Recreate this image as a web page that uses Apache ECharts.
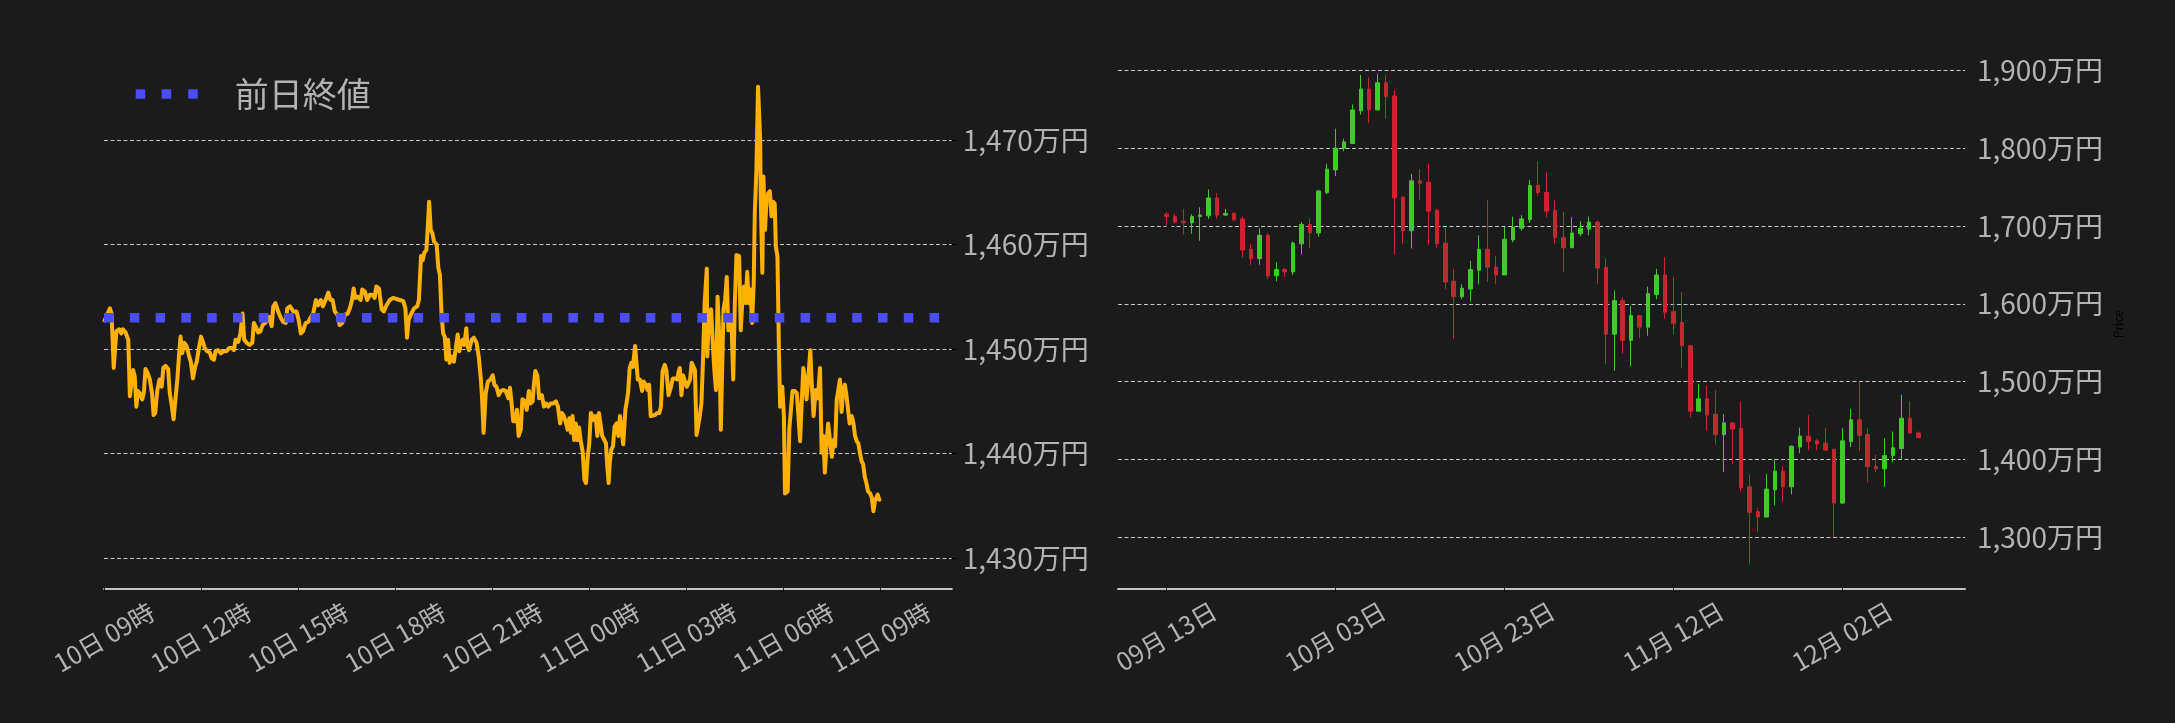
<!DOCTYPE html>
<html><head><meta charset="utf-8">
<script src="https://cdn.jsdelivr.net/npm/echarts@6/dist/echarts.min.js"></script>
<style>html,body{margin:0;padding:0;background:#1b1b1b;}#c{width:2175px;height:723px;}</style>
</head><body><div id="c"></div>
<script>
const FONT = '"Noto Sans CJK JP", "Noto Sans", sans-serif';

// ---------- intraday (minutes since 10日 00:00) ----------
const lineMinutes = [540,551,554,558,560,563,568,572,575,580,585,588,591,594,597,600,603,606,611,614,617,621,625,629,632,635,639,643,647,650,654,659,662,666,669,673,676,679,682,685,689,693,697,701,705,709,712,716,720,724,727,731,736,740,744,747,752,757,761,767,772,777,781,784,789,793,797,800,805,810,815,818,821,826,830,834,839,843,846,851,854,858,863,867,872,877,880,885,
891,897,901,905,909,914,919,924,928,933,937,942,946,951,956,960,964,968,973,977,982,987,992,996,1000,1003,1006,1011,1016,1019,1024,1028,1033,1038,1042,1045,1050,1055,1059,1064,1070,1076,1082,1089,1095,1099,1102,1105,1110,1115,1121,1124,1128,1131,1134,1138,1141,1143,1146,1149,1152,1157,1160,1163,1166,1169,1172,1175,1178,1181,1186,1189,1193,1196,1199,1202,1205,1208,1212,1214,1217,1222,1226,1231,1235,1239,1241,1244,
1248,1252,1257,1261,1264,1268,1272,1276,1280,1285,1290,1293,1296,1299,1303,1306,1309,1313,1316,1321,1324,1328,1331,1335,1337,1340,1344,1347,1352,1356,1360,1364,1368,1373,1378,1382,1386,1389,1393,1397,1400,1403,1406,1409,1412,1415,1418,1421,1424,1428,1431,1434,1437,1440,1443,1446,1449,1452,1455,1458,1461,1464,1467,1471,1473,1476,1478,1481,1484,1487,1491,1494,1497,1500,1503,1507,1509,1512,1515,1518,1521,1525,1528,1530,1534,1538,1541,1545,1548,1551,1554,1557,1562,1566,1570,1573,1576,1580,1583,1587,1591,1595,1599,1603,1606,
1608,1611,1614,1617,1621,1624,1627,1630,1633,1636,1639,1642,1645,1648,1651,1654,1658,1659,1662,1666,1669,1672,1675,1678,1681,1684,1687,1689,1692,1695,1698,1701,1704,1707,1710,1713,1718,1721,1724,1727,1730,1733,1736,1739,1742,1745,1747,1750,1753,1757,1758,1761,1763,1766,1769,1772,1775,1778,1781,1784,1786,1789,1792,1794,1798,1801,1803,1808,1811,1814,1817,1821,1825,1828,1831,1834,1837,1840,1843,1846,1850,1852,1856,1860,1864,1868,1871,1874,1877,1880,1883,1886,1890,1893,1896,1899,1902,1905,1908,1911,1914,1917,1920,1923,1927,1930,1933,1936,1939,1942,1945,1948,1951,1954,1957,1961,1964,1967,1970,1975,1978,1980];
const lineValues = [1452.6,1453.9,1453.4,1448.2,1448.3,1451.7,1451.9,1451.5,1451.9,1451.6,1450.9,1445.5,1445.6,1448.0,1447.4,1444.5,1446.0,1445.8,1445.2,1445.9,1448.1,1447.7,1447.1,1445.8,1443.7,1443.9,1446.1,1447.1,1446.4,1448.2,1448.4,1448.1,1445.8,1444.5,1443.3,1445.5,1447.1,1449.3,1451.2,1449.6,1450.6,1450.3,1449.5,1448.8,1447.2,1448.3,1448.8,1450.1,1451.2,1450.6,1450.1,1449.8,1449.7,1449.1,1449.0,1449.8,1449.9,1449.6,1449.8,1449.8,1450.1,1450.1,1449.9,1450.9,1450.7,1451.5,1453.4,1450.9,1450.6,1450.4,1450.6,1452.5,1452.2,1451.6,1451.7,1452.3,1452.5,1452.8,1453.1,1452.2,1454.1,1454.4,1453.6,1453.1,1452.6,1452.5,1453.9,1454.1,
1453.6,1453.6,1452.8,1451.5,1451.7,1452.5,1452.6,1453.1,1453.4,1454.7,1454.2,1454.7,1454.1,1454.7,1455.4,1454.7,1454.7,1453.6,1453.3,1452.3,1452.5,1453.3,1453.4,1453.9,1454.7,1455.8,1454.9,1455.0,1454.7,1455.7,1455.5,1454.7,1455.2,1455.2,1454.9,1456.0,1455.8,1453.8,1453.6,1454.2,1454.7,1454.9,1454.8,1454.7,1454.6,1453.9,1451.1,1452.8,1453.4,1453.9,1454.1,1454.7,1458.9,1458.5,1459.2,1459.5,1462.1,1464.1,1461.4,1461.1,1460.3,1460.0,1457.8,1457.1,1453.4,1451.5,1451.2,1449.0,1450.9,1448.7,1449.3,1448.8,1450.3,1451.4,1449.8,1450.6,1450.9,1450.4,1452.0,1450.3,1449.9,1450.9,1451.1,1450.6,1449.3,1447.1,1445.5,1442.0,
1445.8,1446.9,1447.1,1447.5,1446.6,1446.4,1445.6,1446.0,1446.1,1446.0,1445.3,1446.3,1444.8,1443.1,1443.1,1444.2,1441.7,1442.3,1445.2,1445.0,1444.2,1446.0,1444.8,1445.0,1446.4,1447.9,1447.4,1445.3,1445.6,1444.5,1444.8,1444.5,1444.8,1444.8,1445.0,1444.5,1442.9,1443.9,1443.6,1442.9,1442.3,1443.4,1442.0,1443.6,1441.3,1442.9,1441.3,1442.5,1441.3,1440.1,1437.5,1437.2,1439.6,1441.0,1443.9,1443.9,1443.2,1443.6,1441.7,1443.9,1444.0,1441.7,1441.8,1441.0,1439.1,1437.2,1439.1,1440.4,1440.7,1442.6,1442.9,1441.7,1443.6,1443.7,1440.9,1444.2,1444.8,1445.8,1448.2,1448.7,1448.3,1450.3,1450.3,1447.1,1447.1,1446.0,1446.9,1446.6,1446.1,1446.6,1443.6,1443.6,1443.7,1443.9,1443.9,1444.5,1447.9,1448.5,1448.0,1445.6,1446.3,1447.2,1447.2,1447.1,1447.9,
1448.2,1445.6,1447.5,1447.4,1446.4,1446.3,1447.1,1448.7,1448.7,1448.0,1441.8,1441.8,1443.6,1444.8,1449.0,1454.4,1457.7,1449.3,1453.4,1453.8,1450.6,1448.0,1446.1,1455.0,1451.2,1442.3,1449.3,1453.8,1454.7,1456.9,1451.8,1452.5,1452.2,1447.1,1454.4,1459.0,1458.9,1451.8,1454.7,1456.0,1454.4,1457.4,1454.4,1455.7,1452.5,1456.3,1463.0,1467.1,1475.1,1470.0,1464.6,1457.3,1466.5,1461.4,1464.4,1464.9,1465.1,1462.7,1464.1,1463.9,1459.8,1458.9,1449.3,1444.5,1446.4,1443.6,1436.2,1436.4,1442.3,1444.2,1446.0,1446.0,1445.8,1443.6,1441.2,1444.8,1448.2,1447.1,1445.2,1447.1,1449.9,1447.4,1443.6,1446.1,1445.3,1448.2,1440.1,1441.7,1438.2,1440.7,1442.9,1442.9,1439.7,1441.3,1440.7,1445.2,1446.1,1447.1,1444.0,1446.1,1446.6,1445.6,1444.2,1442.9,1443.6,1442.9,1441.7,1441.2,1441.0,1440.1,1439.3,1439.0,1437.8,1437.2,1436.4,1436.2,1435.8,1434.5,1435.5,1436.1,1435.6,1435.7];
const prevClose = 1453.0;
const leftTickMinutes = [540,720,900,1080,1260,1440,1620,1800,1980];
const leftTickLabels = ['10日 09時','10日 12時','10日 15時','10日 18時','10日 21時','11日 00時','11日 03時','11日 06時','11日 09時'];
const leftYTicks = [1430,1440,1450,1460,1470];
const legendName = '前日終値';

// ---------- daily candles (2025) ----------
const candleDates = ['09-13','09-14','09-15','09-16','09-17','09-18','09-19','09-20','09-21','09-22','09-23','09-24','09-25','09-26','09-27','09-28','09-29','09-30',
'10-01','10-02','10-03','10-04','10-05','10-06','10-07','10-08','10-09','10-10','10-11','10-12','10-13','10-14','10-15','10-16','10-17','10-18','10-19','10-20','10-21','10-22','10-23','10-24','10-25','10-26','10-27','10-28','10-29','10-30','10-31',
'11-01','11-02','11-03','11-04','11-05','11-06','11-07','11-08','11-09','11-10','11-11','11-12','11-13','11-14','11-15','11-16','11-17','11-18','11-19','11-20','11-21','11-22','11-23','11-24','11-25','11-26','11-27','11-28','11-29','11-30',
'12-01','12-02','12-03','12-04','12-05','12-06','12-07','12-08','12-09','12-10','12-11'];
const candleOpen  = [1715,1712,1706,1704,1712,1713,1736,1714,1716,1709,1670,1658,1688,1636,1644,1641,1677,1702,1691,1743,1772,1800,1806,1848,1876,1849,1884,1867,1737,1694,1758,1756,1720,1678,1629,1609,1619,1643,1670,1647,1637,1682,1697,1708,1752,1743,1720,1685,1672,1690,1696,1705,1647,1561,1604,1553,1585,1570,1612,1637,1590,1576,1546,1462,1478,1458,1432,1447,1440,1365,1333,1326,1361,1385,1365,1416,1430,1424,1421,1413,1344,1423,1451,1432,1391,1388,1405,1414,1453,1434];
const candleClose = [1712,1705,1704,1712,1714,1736,1714,1716,1708,1669,1658,1688,1636,1644,1641,1678,1702,1691,1745,1773,1800,1808,1849,1876,1849,1884,1866,1736,1694,1758,1755,1719,1677,1628,1609,1620,1644,1670,1647,1637,1683,1698,1709,1752,1743,1719,1685,1672,1691,1697,1705,1646,1561,1604,1553,1585,1570,1613,1637,1589,1575,1546,1462,1478,1457,1432,1447,1439,1364,1332,1326,1362,1385,1365,1417,1430,1423,1420,1412,1344,1424,1451,1431,1391,1388,1405,1415,1453,1434,1428];
const candleLow   = [1700,1703,1689,1690,1681,1709,1709,1713,1706,1659,1650,1650,1632,1629,1635,1637,1664,1671,1686,1741,1764,1796,1806,1843,1832,1849,1838,1663,1677,1671,1733,1676,1672,1619,1555,1606,1603,1625,1628,1625,1637,1679,1694,1704,1739,1711,1677,1641,1672,1687,1688,1626,1522,1514,1536,1520,1556,1559,1606,1581,1561,1518,1454,1462,1437,1419,1384,1394,1359,1265,1307,1326,1341,1346,1355,1408,1412,1412,1411,1300,1343,1416,1411,1371,1384,1365,1397,1400,1433,1428];
const candleHigh  = [1718,1716,1722,1715,1724,1747,1742,1722,1718,1712,1677,1697,1691,1653,1646,1680,1705,1709,1746,1780,1825,1812,1856,1894,1891,1895,1894,1874,1739,1767,1773,1780,1722,1698,1645,1625,1655,1688,1733,1661,1699,1712,1714,1759,1783,1769,1733,1718,1711,1706,1712,1707,1658,1617,1608,1597,1585,1622,1645,1660,1635,1615,1547,1497,1495,1489,1458,1448,1474,1380,1338,1381,1399,1391,1418,1441,1457,1426,1441,1414,1440,1465,1500,1440,1406,1427,1436,1483,1475,1436];
const rightTickDates = ['09-13','10-03','10-23','11-12','12-02'];
const rightYTicks = [1300,1400,1500,1600,1700,1800,1900];

// ---------- helpers ----------
const YEAR = 2025;
const ORIGIN = Date.UTC(YEAR, 8, 13);
function dayIdx(s){ const p = s.split('-').map(Number); return (Date.UTC(YEAR, p[0]-1, p[1]) - ORIGIN) / 86400000; }
function yen(v){ return String(Math.round(v)).replace(/\B(?=(\d{3})+(?!\d))/g, ',') + '万円'; }
const rightTickIdx = rightTickDates.map(dayIdx);
function rightLabel(v){
  for (let i = 0; i < rightTickIdx.length; i++) if (Math.abs(rightTickIdx[i] - v) < 1e-6) { const p = rightTickDates[i].split('-'); return p[0] + '月 ' + p[1] + '日'; }
  return '';
}
function leftLabel(v){
  for (let i = 0; i < leftTickMinutes.length; i++) if (Math.abs(leftTickMinutes[i] - v) < 1e-6) return leftTickLabels[i];
  return '';
}

const leftXMin = 540, leftXMax = 2112.4;
const leftYMin = 1427.13, leftYMax = 1477.65;
const rightXMin = -5.73, rightXMax = 94.51;
const rightYMin = 1234.5, rightYMax = 1913.2;

const labelColor = '#b3b3b3';
const gridLine = { show: true, lineStyle: { color: '#c8c8c8', width: 1, type: [4, 2.5] } };

const chart = echarts.init(document.getElementById('c'), null, { renderer: 'canvas' });
chart.setOption({
  backgroundColor: '#1b1b1b',
  animation: false,
  textStyle: { fontFamily: FONT },
  grid: [
    { left: 104, right: 1223.2, top: 60, bottom: 134.7, containLabel: false, outerBoundsMode: 'none' },
    { left: 1118, right: 210, top: 60, bottom: 134.7, containLabel: false, outerBoundsMode: 'none' }
  ],
  legend: {
    data: [{ name: legendName, icon: 'path://M0,0h9.5v9.5h-9.5zM26,0h9.5v9.5h-9.5zM52.5,0h9.5v9.5h-9.5z' }],
    left: 135.7, top: 77, padding: 0, itemWidth: 62, itemHeight: 9.5, selectedMode: false,
    itemStyle: { color: '#4c4cff', borderWidth: 0 },
    textStyle: { color: labelColor, fontSize: 34, fontFamily: FONT, padding: [0, 0, 0, 32] }
  },
  xAxis: [
    { gridIndex: 0, type: 'value', min: leftXMin, max: leftXMax, position: 'bottom',
      axisLine: { show: true, onZero: false, lineStyle: { color: '#c4c4c4', width: 2 } },
      axisTick: { show: true, customValues: leftTickMinutes, length: 4, lineStyle: { color: '#000', width: 1 } },
      axisLabel: { customValues: leftTickMinutes, formatter: leftLabel, rotate: 30, align: 'center', verticalAlign: 'middle', margin: 49, color: labelColor, fontSize: 25, fontFamily: FONT },
      splitLine: { show: false } },
    { gridIndex: 1, type: 'value', min: rightXMin, max: rightXMax, position: 'bottom',
      axisLine: { show: true, onZero: false, lineStyle: { color: '#c4c4c4', width: 2 } },
      axisTick: { show: true, customValues: rightTickIdx, length: 4, lineStyle: { color: '#000', width: 1 } },
      axisLabel: { customValues: rightTickIdx, formatter: rightLabel, rotate: 30, align: 'center', verticalAlign: 'middle', margin: 48, color: labelColor, fontSize: 25, fontFamily: FONT },
      splitLine: { show: false } }
  ],
  yAxis: [
    { gridIndex: 0, type: 'value', position: 'right', min: leftYMin, max: leftYMax,
      axisLine: { show: false },
      axisTick: { show: true, customValues: leftYTicks, length: 5, lineStyle: { color: '#000', width: 1 } },
      axisLabel: { customValues: leftYTicks, formatter: yen, margin: 11, color: labelColor, fontSize: 28, fontFamily: FONT },
      splitLine: gridLine },
    { gridIndex: 1, type: 'value', position: 'right', min: rightYMin, max: rightYMax,
      name: 'Price', nameLocation: 'middle', nameGap: 147, nameRotate: 90,
      nameTextStyle: { color: '#000', fontSize: 12, fontFamily: FONT },
      axisLine: { show: false },
      axisTick: { show: true, customValues: rightYTicks, length: 5, lineStyle: { color: '#000', width: 1 } },
      axisLabel: { customValues: rightYTicks, formatter: yen, margin: 12, color: labelColor, fontSize: 28, fontFamily: FONT },
      splitLine: gridLine }
  ],
  series: [
    { name: '価格', type: 'line', xAxisIndex: 0, yAxisIndex: 0, showSymbol: false, symbol: 'none', z: 2,
      data: lineMinutes.map((m, i) => [m, lineValues[i]]),
      lineStyle: { color: '#ffb000', width: 4, join: 'round' }, itemStyle: { color: '#ffb000' } },
    { name: legendName, type: 'line', xAxisIndex: 0, yAxisIndex: 0, showSymbol: false, symbol: 'none', z: 3,
      data: [[leftXMin, prevClose], [leftXMax, prevClose]],
      lineStyle: { color: '#4c4cff', width: 9.5, type: [9.5, 16.3], cap: 'butt' }, itemStyle: { color: '#4c4cff' } },
    { name: 'daily', type: 'candlestick', xAxisIndex: 1, yAxisIndex: 1, barWidth: 4,
      encode: { x: 0, y: [1, 2, 3, 4] },
      data: candleDates.map((d, i) => [dayIdx(d), candleOpen[i], candleClose[i], candleLow[i], candleHigh[i]]),
      itemStyle: { color: '#41c92a', color0: '#c72530', borderColor: '#41c92a', borderColor0: '#c72530', borderWidth: 1 } }
  ]
});
</script></body></html>
